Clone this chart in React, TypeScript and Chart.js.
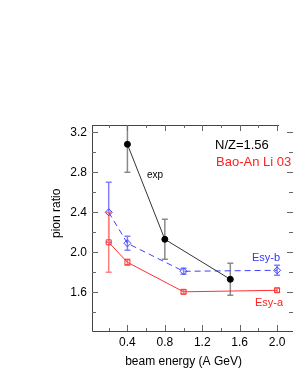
import React, { useEffect, useRef } from "react";
import { Chart, registerables } from "chart.js";

Chart.register(...registerables);

const expX = [0.4, 0.8, 1.5];
const expY = [3.08, 2.13, 1.73];
const expErr = [0.28, 0.2, 0.16];

const esybX = [0.2, 0.4, 1.0, 2.0];
const esybY = [2.4, 2.09, 1.81, 1.82];
const esybErr = [0.3, 0.07, 0.03, 0.05];

const esyaX = [0.2, 0.4, 1.0, 2.0];
const esyaY = [2.1, 1.9, 1.605, 1.62];
const esyaErr = [0.3, 0.03, 0.02, 0.02];

const xMajor = [0.4, 0.8, 1.2, 1.6, 2.0];
const xMinor = [0.2, 0.6, 1.0, 1.4, 1.8];
const yMajor = [1.6, 2.0, 2.4, 2.8, 3.2];
const yMinor = [1.4, 1.8, 2.2, 2.6, 3.0];

const FONT = "'Liberation Sans', Arial, Helvetica, sans-serif";

const errColors = ["#8a8a8a", "#8080ff", "#ff8080"];
const errSets = [
  { xs: expX, ys: expY, es: expErr },
  { xs: esybX, ys: esybY, es: esybErr },
  { xs: esyaX, ys: esyaY, es: esyaErr },
];

const framePlugin = {
  id: "frame",
  beforeDatasetsDraw(chart: any) {
    const { ctx, chartArea, scales } = chart;
    const xs = scales.x;
    const ys = scales.y;
    ctx.save();
    ctx.beginPath();
    ctx.rect(chartArea.left, chartArea.top, chartArea.right - chartArea.left, chartArea.bottom - chartArea.top);
    ctx.clip();
    errSets.forEach((s, i) => {
      ctx.strokeStyle = errColors[i];
      ctx.lineWidth = 1.5;
      s.xs.forEach((xv, j) => {
        const px = xs.getPixelForValue(xv);
        const top = ys.getPixelForValue(s.ys[j] + s.es[j]);
        const bot = ys.getPixelForValue(s.ys[j] - s.es[j]);
        ctx.beginPath();
        ctx.moveTo(px, top);
        ctx.lineTo(px, bot);
        ctx.moveTo(px - 3, top);
        ctx.lineTo(px + 3, top);
        ctx.moveTo(px - 3, bot);
        ctx.lineTo(px + 3, bot);
        ctx.stroke();
      });
    });
    ctx.restore();
  },
  afterDatasetsDraw(chart: any) {
    const { ctx, chartArea, scales } = chart;
    const xs = scales.x;
    const ys = scales.y;
    const { left, right, top, bottom } = chartArea;
    ctx.save();
    ctx.strokeStyle = "#444";
    ctx.lineWidth = 1;
    const topEnd = xs.getPixelForValue(2.0) + 2;
    ctx.beginPath();
    ctx.moveTo(left + 0.5, top + 0.5);
    ctx.lineTo(left + 0.5, bottom + 0.5);
    ctx.lineTo(right, bottom + 0.5);
    ctx.moveTo(left, top + 0.5);
    ctx.lineTo(topEnd, top + 0.5);
    ctx.stroke();
    ctx.strokeStyle = "#666";
    const xt = (v: number, len: number, bothTop: boolean) => {
      const px = Math.round(xs.getPixelForValue(v)) + 0.5;
      ctx.beginPath();
      ctx.moveTo(px, bottom);
      ctx.lineTo(px, bottom - len);
      if (bothTop && px < topEnd) {
        ctx.moveTo(px, top);
        ctx.lineTo(px, top + len);
      }
      ctx.stroke();
    };
    xMajor.forEach((v) => xt(v, 6, true));
    xMinor.forEach((v) => xt(v, 3, true));
    const yt = (v: number, len: number) => {
      const py = Math.round(ys.getPixelForValue(v)) + 0.5;
      ctx.beginPath();
      ctx.moveTo(left, py);
      ctx.lineTo(left + len, py);
      ctx.moveTo(right, py);
      ctx.lineTo(right - len, py);
      ctx.stroke();
    };
    yMajor.forEach((v) => yt(v, 6));
    yMinor.forEach((v) => yt(v, 4));
    ctx.fillStyle = "#000";
    ctx.font = `12px ${FONT}`;
    ctx.textAlign = "right";
    ctx.textBaseline = "middle";
    yMajor.forEach((v) => {
      ctx.fillText(v.toFixed(1), left - 5, ys.getPixelForValue(v) + 0.5);
    });
    ctx.textAlign = "center";
    ctx.textBaseline = "top";
    xMajor.forEach((v) => {
      ctx.fillText(v.toFixed(1), xs.getPixelForValue(v), bottom + 6);
    });
    ctx.font = `12px ${FONT}`;
    ctx.textBaseline = "middle";
    ctx.fillText("beam energy (A GeV)", xs.getPixelForValue(1.0), bottom + 31);
    ctx.save();
    ctx.translate(left - 35, ys.getPixelForValue(2.4) + 1);
    ctx.rotate(-Math.PI / 2);
    ctx.fillText("pion ratio", 0, 0);
    ctx.restore();
    ctx.textAlign = "left";
    ctx.font = `13px ${FONT}`;
    ctx.fillStyle = "#000";
    ctx.fillText("N/Z=1.56", 215, 145);
    ctx.fillStyle = "#ff2020";
    ctx.fillText("Bao-An Li 03", 216, 162);
    ctx.font = `10px ${FONT}`;
    ctx.fillStyle = "#000";
    ctx.fillText("exp", 147, 175);
    ctx.font = `11px ${FONT}`;
    ctx.fillStyle = "#3333ff";
    ctx.fillText("Esy-b", 252, 258);
    ctx.fillStyle = "#ff2020";
    ctx.fillText("Esy-a", 255, 303);
    ctx.restore();
  },
};

export default function App() {
  const ref = useRef<HTMLCanvasElement | null>(null);
  useEffect(() => {
    document.body.style.margin = "0";
    const canvas = ref.current!;
    const mk = (xs: number[], ys: number[]) => xs.map((x, i) => ({ x, y: ys[i] }));
    const chart = new Chart(canvas, {
      type: "line",
      data: {
        datasets: [
          {
            label: "exp",
            data: mk(expX, expY),
            borderColor: "#333",
            backgroundColor: "#000",
            borderWidth: 1,
            pointStyle: "circle",
            pointRadius: 3,
            pointBorderColor: "#000",
            pointBackgroundColor: "#000",
          },
          {
            label: "Esy-b",
            data: mk(esybX, esybY),
            borderColor: "#4040ff",
            borderWidth: 1,
            borderDash: [6, 4],
            pointStyle: "rectRot",
            pointRadius: 3.5,
            pointBorderColor: "#4040ff",
            pointBackgroundColor: "rgba(255,255,255,0)",
          },
          {
            label: "Esy-a",
            data: mk(esyaX, esyaY),
            borderColor: "#ff3030",
            borderWidth: 1,
            pointStyle: "rect",
            pointRadius: 3.5,
            pointBorderColor: "#ff3030",
            pointBackgroundColor: "rgba(255,255,255,0)",
          },
        ],
      },
      options: {
        animation: false,
        responsive: false,
        events: [],
        layout: { padding: { left: 92, top: 125, right: 0, bottom: 54 } },
        plugins: { legend: { display: false }, tooltip: { enabled: false } },
        scales: {
          x: { type: "linear", min: 0.0214, max: 2.17, display: false },
          y: { type: "linear", min: 1.213, max: 3.273, display: false },
        },
      },
      plugins: [framePlugin],
    });
    return () => chart.destroy();
  }, []);
  return <canvas ref={ref} width={298} height={385} style={{ display: "block" }} />;
}
